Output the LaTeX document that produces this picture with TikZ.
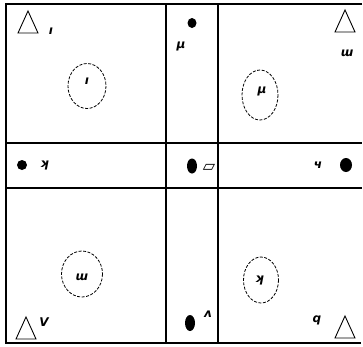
\documentclass[tikz,border=0pt]{standalone}
\usepackage{fontspec}
\newfontfamily\lab{DejaVu Sans}
\begin{document}
\begin{tikzpicture}[x=1pt,y=-1pt,
  frame/.style={line width=2pt},
  blob/.style={dashed,dash pattern=on 3pt off 1.5pt,line width=0.8pt},
  lbl/.style={font=\lab\bfseries\itshape\fontsize{12}{12}\selectfont,inner sep=0pt},
  tri/.pic={\draw[line width=0.9pt] (-10,11) -- (10,11) -- (0,-11) -- cycle;}
]
\useasboundingbox (0,0) rectangle (363,346);
% frame
\draw[frame] (362,4) -- (6,4) -- (6,343) -- (361,343);
\draw[frame] (166,4) -- (166,343);
\draw[frame] (218,4) -- (218,343);
\draw[frame] (6,143) -- (362,143);
\draw[frame] (6,188) -- (362,188);
% top left
\pic at (28,22) {tri};
\node[lbl] (tl) at (51,31) {ı};
\draw[blob] (87,86) ellipse (19 and 22.5);
\node[lbl] (tlc) at (87,81) {ı};
% top middle
\fill (192,23) ellipse (4.5 and 5);
\node[lbl] (tm) at (181,46) {μ};
% top right
\pic at (345,21) {tri};
\node[lbl] (tr) at (347,53) {ɯ};
\draw[blob] (260,95) ellipse (18 and 25);
\node[lbl] (trc) at (262,91) {μ};
% middle row
\fill (22,165) ellipse (5 and 5);
\node[lbl] (ml) at (44,165) {ʞ};
\fill (192,166) ellipse (5 and 7.5);
\node[lbl,font=\lab\bfseries\fontsize{16}{16}\selectfont] (mc) at (209,168) {▱};
\node[lbl] (mr) at (318,165) {ч};
\fill (346,165) ellipse (6 and 7);
% bottom left
\draw[blob] (82,274) ellipse (20.5 and 23);
\node[lbl] (blc) at (82,277) {ɯ};
\pic at (26,328) {tri};
\node[lbl] (bl) at (44,322) {V};
% bottom right
\draw[blob] (261,280) ellipse (17.5 and 23);
\node[lbl] (brc) at (259,280) {ʞ};
\fill (190,323) ellipse (5 and 8);
\node[lbl] (bm) at (208,314) {ʌ};
\pic at (345,327) {tri};
\node[lbl] (br) at (317,320) {q};
\end{tikzpicture}
\end{document}
